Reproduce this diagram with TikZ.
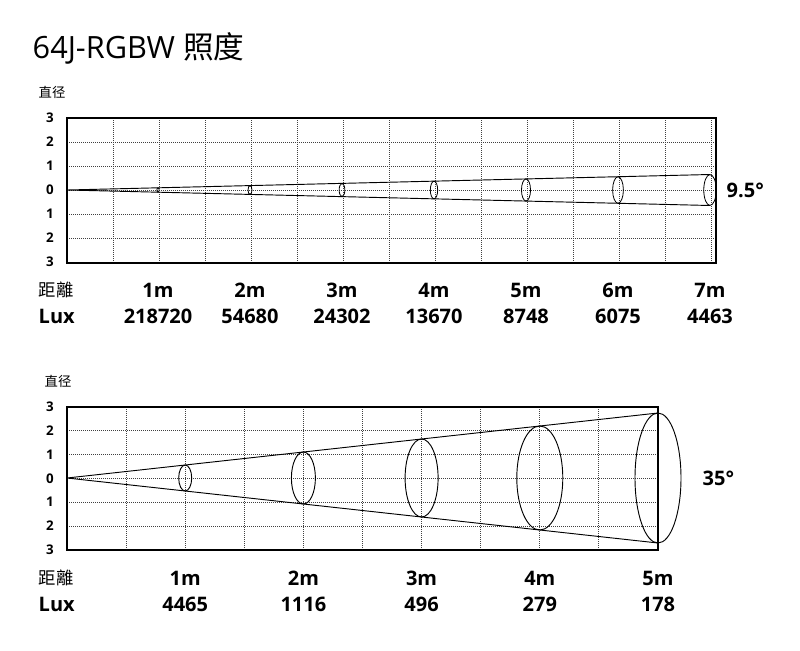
\documentclass[tikz,border=0pt]{standalone}
\usepackage{fontspec}
\setmainfont{Open Sans}
\newfontfamily\cjk{Noto Sans CJK SC}
\begin{document}
\begin{tikzpicture}[x=0.75pt,y=-0.75pt,
  grid/.style={densely dotted,line width=0.5pt,black!75},
  frame/.style={line width=1.3pt},
  beam/.style={line width=0.7pt},
  ax/.style={font=\bfseries\fontsize{10}{12}\selectfont},
  lab/.style={font=\bfseries\fontsize{15}{18}\selectfont},
  cj/.style={font=\cjk\fontsize{10}{12}\selectfont}]
\useasboundingbox (0,0) rectangle (800,650);
\node[anchor=west,font=\fontsize{23}{27}\selectfont] (title) at (28,48) {64J-RGBW {\cjk 照度}};
% ---------- chart 1
\node[cj,anchor=west] (d1) at (34,92) {直径};
\foreach \i in {1,...,14} \draw[grid] (67+46*\i,118) -- (67+46*\i,263);
\foreach \i in {1,...,5} \draw[grid] (67,118+24*\i) -- (716,118+24*\i);
\draw[frame] (67,118) rectangle (716,263);
\foreach \v [count=\k from 0] in {3,2,1,0,1,2,3} \node[ax] at (50,118+24*\k) {\v};
\coordinate (o1) at (67,190);
\coordinate (t1) at (710,174.5);
\coordinate (b1) at (710,205.5);
\draw[beam] (o1) -- (t1) (o1) -- (b1);
\foreach \m in {1,...,7} \draw[line width=0.6pt] (66+92*\m,190) ellipse ({0.28+0.85*\m} and {2.2*\m});
\node[lab,anchor=west] (a1) at (722,190) {9.5°};
\node[cj,font=\cjk\fontsize{13}{15}\selectfont,anchor=west] (r1) at (34,290) {距離};
\node[lab,anchor=west] (l1) at (34,316) {Lux};
\foreach \m/\lx in {1/218720,2/54680,3/24302,4/13670,5/8748,6/6075,7/4463}{
  \node[lab] at (66+92*\m,290) {\m m};
  \node[lab] at (66+92*\m,316) {\lx};}
% ---------- chart 2
\node[cj,anchor=west] (d2) at (40,381) {直径};
\foreach \i in {1,...,9} \draw[grid] (67+59*\i,407) -- (67+59*\i,550);
\foreach \i in {1,...,5} \draw[grid] (67,407+23.8*\i) -- (658,407+23.8*\i);
\draw[frame] (67,407) rectangle (658,550);
\foreach \v [count=\k from 0] in {3,2,1,0,1,2,3} \node[ax] at (50,407+23.8*\k) {\v};
\coordinate (o2) at (67,478);
\coordinate (t2) at (658,413);
\coordinate (b2) at (658,543);
\draw[beam] (o2) -- (t2) (o2) -- (b2);
\foreach \m/\w in {1/6.5,2/12,3/16.5,4/23,5/23} \draw[line width=0.7pt] (67+118.2*\m,478) ellipse ({\w} and {13*\m});
\node[lab,anchor=west] (a2) at (698,478) {35°};
\node[cj,font=\cjk\fontsize{13}{15}\selectfont,anchor=west] (r2) at (34,578) {距離};
\node[lab,anchor=west] (l2) at (34,604) {Lux};
\foreach \m/\lx in {1/4465,2/1116,3/496,4/279,5/178}{
  \node[lab] at (67+118.2*\m,578) {\m m};
  \node[lab] at (67+118.2*\m,604) {\lx};}
\end{tikzpicture}
\end{document}
